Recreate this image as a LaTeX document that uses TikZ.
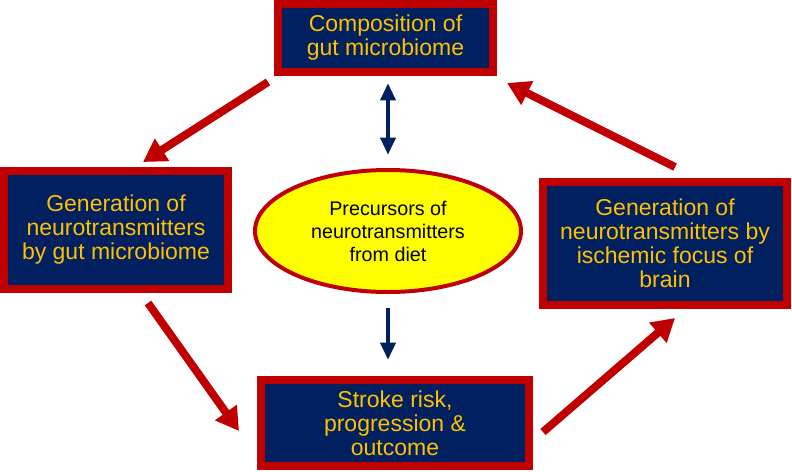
\documentclass[tikz,border=0pt]{standalone}
\usepackage{fontspec}
\setmainfont{Liberation Sans}
\usetikzlibrary{shapes.geometric,arrows.meta,positioning,calc}
\definecolor{boxnavy}{RGB}{0, 32, 96}
\definecolor{boxred}{RGB}{192, 0, 0}
\definecolor{textgold}{RGB}{255, 192, 0}
\definecolor{dietyellow}{RGB}{255, 255, 0}

\begin{document}
\begin{tikzpicture}[
    x=0.75pt, y=-0.75pt,
    box/.style={rectangle, draw=boxred, fill=boxnavy, line width=6pt, align=center, inner sep=0pt,
        text=textgold, font=\fontsize{17.25}{18}\selectfont},
    diet/.style={ellipse, draw=boxred, fill=dietyellow, line width=3pt, align=center, inner sep=0pt,
        font=\fontsize{14.8}{17.25}\selectfont},
    redarrow/.style={-{Triangle[length=17pt, width=19pt]}, draw=boxred, line width=6pt},
    bluearrow/.style={draw=boxnavy, line width=3.6pt}
]
    \useasboundingbox (0,0) rectangle (792,471);

    % Boxes
    \node[box, minimum width=161.25pt, minimum height=51pt] (comp) at (385.5,38) {Composition of\\gut microbiome};
    \node[box, minimum width=168pt, minimum height=88.5pt] (gengut) at (116,230) {Generation of\\neurotransmitters\\by gut microbiome};
    \node[box, minimum width=183pt, minimum height=92.25pt] (genbrain) at (665,243.5) {Generation of\\neurotransmitters by\\ischemic focus of\\brain};
    \node[box, minimum width=201pt, minimum height=64.5pt] (stroke) at (395,423) {Stroke risk,\\progression \&\\outcome};

    % Precursors
    \node[diet, minimum width=199.5pt, minimum height=91.5pt] (prec) at (388,231) {Precursors of\\neurotransmitters\\from diet};

    % Cycle
    \draw[redarrow] ([shift={(-6,6)}]comp.south west) -- ([shift={(27,-5)}]gengut.north);
    \draw[redarrow] ([shift={(32,10)}]gengut.south) -- ([shift={(-18,8)}]stroke.west);
    \draw[redarrow] ([shift={(10,9)}]stroke.east) -- ([shift={(10,9)}]genbrain.south);
    \draw[redarrow] ([shift={(10,-11)}]genbrain.north) -- ([shift={(10,7)}]comp.south east);

    % Diet links
    \draw[bluearrow, {Triangle[length=13pt, width=11pt]}-{Triangle[length=13pt, width=11pt]}, shorten <=9.75pt, shorten >=5.25pt]
        (prec.north) -- (prec.north |- comp.south);
    \draw[bluearrow, -{Triangle[length=13pt, width=11pt]}, shorten <=10.5pt, shorten >=12pt]
        (prec.south) -- (prec.south |- stroke.north);

\end{tikzpicture}
\end{document}
